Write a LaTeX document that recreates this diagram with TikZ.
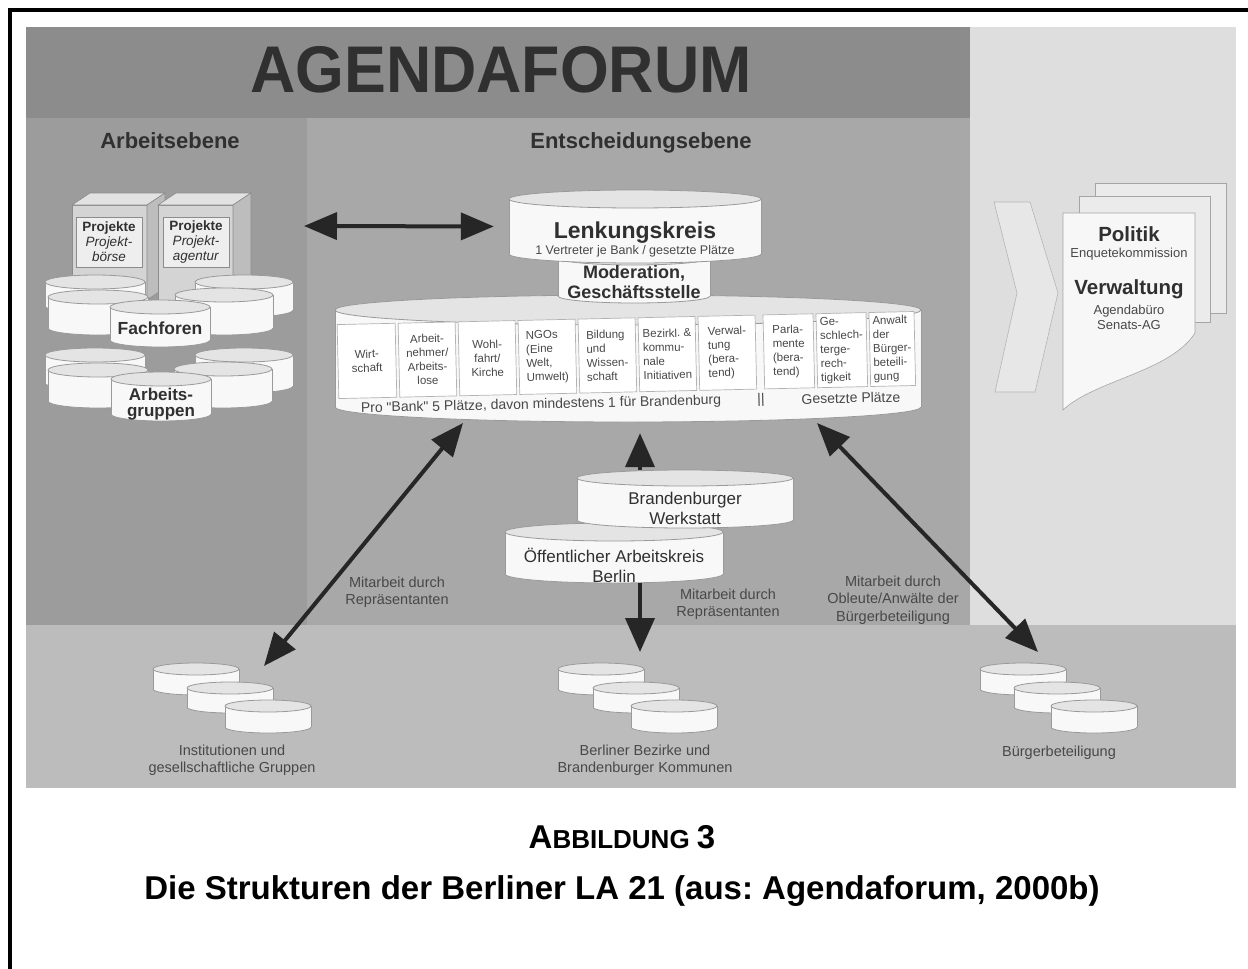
\documentclass[tikz,border=0pt]{standalone}
\usepackage{fontspec}
\setmainfont{Liberation Sans}
\newfontfamily\plainsans{Liberation Sans}
\usetikzlibrary{arrows.meta,calc}
\frenchspacing
\definecolor{bgtop}{HTML}{8C8C8C}
\definecolor{bgleft}{HTML}{9C9C9C}
\definecolor{bgmid}{HTML}{A8A8A8}
\definecolor{bgright}{HTML}{DEDEDE}
\definecolor{bgbot}{HTML}{BCBCBC}
\definecolor{cylw}{HTML}{F8F8F8}
\definecolor{cylt}{HTML}{E4E4E4}
\definecolor{cyll}{HTML}{9A9A9A}
\definecolor{txtd}{HTML}{303030}
\definecolor{txtm}{HTML}{484848}
\definecolor{arrc}{HTML}{262626}
\definecolor{boxf}{HTML}{D4D4D4}
\definecolor{boxt}{HTML}{E2E2E2}
\definecolor{boxs}{HTML}{BDBDBD}
\definecolor{boxl}{HTML}{8C8C8C}
\definecolor{panf}{HTML}{EEEEEE}
\definecolor{pagef}{HTML}{F7F7F7}
\definecolor{pageb}{HTML}{EBEBEB}
\definecolor{pagel}{HTML}{A5A5A5}
\definecolor{chevf}{HTML}{E7E7E7}
\definecolor{chevl}{HTML}{B5B5B5}
\definecolor{colb}{HTML}{B2B2B2}

\newcommand{\fsz}[2]{\fontsize{#1}{#2}\selectfont}
% name, cx, ytop, ybot, rx, ry
\newcommand{\cylshape}[6]{%
  \pgfmathsetmacro{\cylL}{#2-#5}%
  \pgfmathsetmacro{\cylR}{#2+#5}%
  \pgfmathsetmacro{\cylH}{#4-#3+2*#6}%
  \pgfmathsetmacro{\cylW}{2*#5}%
  \pgfmathsetmacro{\cylM}{(#3+#4)/2}%
  \filldraw[cylbody] (#2,#4) ellipse[x radius=#5, y radius=#6];
  \fill[cylw] (\cylL,#3) rectangle (\cylR,#4);
  \draw[cylline] (\cylL,#3) -- (\cylL,#4) (\cylR,#3) -- (\cylR,#4);
  \filldraw[cyltop] (#2,#3) ellipse[x radius=#5, y radius=#6];
  \node[cylnode, minimum width=\cylW pt, minimum height=\cylH pt] (#1) at (#2,\cylM) {};
}
% name, xl, xr, align, text
\newcommand{\colbox}[5]{%
  \node[colstyle, align=#4, minimum width={(#3-#2)*1pt}] (#1) at ({(#2+#3)/2},355) {#5};}

\begin{document}
\begin{tikzpicture}[x=1pt,y=-1pt,
  every node/.style={inner sep=0pt, text=txtd},
  cylbody/.style={fill=cylw, draw=cyll, line width=0.8pt},
  cylline/.style={draw=cyll, line width=0.8pt},
  cyltop/.style={fill=cylt, draw=cyll, line width=0.8pt},
  cylnode/.style={inner sep=0pt, draw=none},
  colstyle/.style={draw=colb, fill=white, line width=0.7pt, minimum height=74pt, text=txtm, font=\fsz{11.5}{14}},
  boxfront/.style={fill=boxf, draw=boxl, line width=0.6pt},
  boxtop/.style={fill=boxt, draw=boxl, line width=0.6pt},
  boxside/.style={fill=boxs, draw=boxl, line width=0.6pt},
  panel/.style={fill=panf, draw=boxl, line width=0.5pt, minimum width=66pt, minimum height=50pt, align=center, font=\fsz{13.5}{15}},
  pageback/.style={fill=pageb, draw=pagel, line width=0.6pt},
  pagefront/.style={fill=pagef, draw=pagel, line width=0.6pt},
  chev/.style={fill=chevf, draw=chevl, line width=0.6pt},
  arr/.style={line width=4pt, draw=arrc, -{Triangle[length=34pt,width=29pt]}},
  dblarr/.style={line width=4pt, draw=arrc, {Triangle[length=33pt,width=27pt]}-{Triangle[length=33pt,width=27pt]}},
  lbl/.style={text=txtm, align=center, font=\fsz{14.5}{17.5}},
  grp/.style={text=txtm, align=center, font=\fsz{14.5}{17}},
  cyltext/.style={align=center, font=\fsz{17}{20}},
  cylbold/.style={align=center, font=\fsz{18}{20}\bfseries}
]
\useasboundingbox (0,0) rectangle (1248,969);
\fill[white] (0,0) rectangle (1248,969);

% ---------- backgrounds ----------
\fill[bgtop] (26,27) rectangle (970,118);
\fill[bgleft] (26,118) rectangle (307,625);
\fill[bgmid] (307,118) rectangle (970,625);
\fill[bgright] (970,27) rectangle (1236,625);
\fill[bgbot] (26,625) rectangle (1236,788);

% frame
\draw[line width=4pt] (10,969) -- (10,10) -- (1248,10);

% ---------- headings ----------
\node[text=txtd] (title) at (501,70) {\scalebox{0.95}[1]{\fsz{66}{66}\bfseries AGENDAFORUM}};
\node (hArb) at (170,141) {\fsz{22}{22}\bfseries Arbeitsebene};
\node (hEnt) at (641,143) {\fsz{22}{22}\bfseries Entscheidungsebene};

% ---------- Arbeitsebene: project boxes ----------
\filldraw[boxfront] (72,205) rectangle (147,300);
\filldraw[boxtop] (72,205) -- (90,193) -- (165,193) -- (147,205) -- cycle;
\filldraw[boxside] (147,205) -- (165,193) -- (165,288) -- (147,300) -- cycle;
\filldraw[boxfront] (158,205) rectangle (233,300);
\filldraw[boxtop] (158,205) -- (176,193) -- (251,193) -- (233,205) -- cycle;
\filldraw[boxside] (233,205) -- (251,193) -- (251,288) -- (233,300) -- cycle;
\node[panel] (pboerse) at (109,242) {\textbf{Projekte}\\\textit{Projekt-}\\\textit{börse}};
\node[panel] (pagentur) at (196,242) {\textbf{Projekte}\\\textit{Projekt-}\\\textit{agentur}};

% Fachforen group
\cylshape{ffBL}{95}{282}{306}{50}{7}
\cylshape{ffBR}{244}{282}{310}{49}{7}
\cylshape{ffFL}{98}{297}{328}{50}{7}
\cylshape{ffFR}{224}{295}{328}{49}{7}
\cylshape{ffC}{160}{307}{340}{50}{7}
\node (ffT) at (160,328) {\fsz{17.5}{17.5}\bfseries Fachforen};

% Arbeitsgruppen group
\cylshape{agBL}{95}{355}{383}{50}{7}
\cylshape{agBR}{244}{355}{386}{49}{7}
\cylshape{agFL}{98}{370}{401}{50}{7}
\cylshape{agFR}{223}{369}{401}{49}{7}
\cylshape{agC}{161}{379}{414}{50}{7}
\node[align=center, font=\fsz{17}{15.5}\bfseries] (agT) at (161,404) {Arbeits-\\gruppen};

% ---------- Entscheidungsebene ----------
\cylshape{big}{628}{310}{407}{293}{15}
\begin{scope}[rotate around={1.3:(628,360)}, transform shape]
  \colbox{cWirt}{338}{396}{center}{Wirt-\\schaft}
  \colbox{cArb}{399}{456}{center}{Arbeit-\\nehmer/\\Arbeits-\\lose}
  \colbox{cWohl}{459}{516}{center}{Wohl-\\fahrt/\\Kirche}
  \colbox{cNGO}{519}{576}{left}{NGOs\\(Eine\\Welt,\\Umwelt)}
  \colbox{cBild}{579}{636}{left}{Bildung\\und\\Wissen-\\schaft}
  \colbox{cBez}{639}{696}{left}{Bezirkl. \&\\kommu-\\nale\\Initiativen}
  \colbox{cVerw}{699}{756}{left}{Verwal-\\tung\\(bera-\\tend)}
  \colbox{cParl}{764}{814}{left}{Parla-\\mente\\(bera-\\tend)}
  \colbox{cGesch}{817}{867}{left}{Ge-\\schlech-\\terge-\\rech-\\tigkeit}
  \colbox{cAnw}{870}{915}{left}{Anwalt\\der\\Bürger-\\beteili-\\gung}
  \node[text=txtm] (proBank) at (540,403) {\fsz{14}{14}\plainsans Pro "Bank" 5 Plätze, davon mindestens 1 für Brandenburg};
  \node[text=txtm] (sepBar) at (760,403) {\fsz{14}{14}||};
  \node[text=txtm] (gesetzt) at (850,403) {\fsz{14}{14}Gesetzte Plätze};
\end{scope}

\cylshape{mod}{634}{258}{296}{76}{7}
\node[cylbold] (modT) at (634,282) {Moderation,\\Geschäftsstelle};

\cylshape{lenk}{635}{199}{254}{126}{9}
\node (lenkT) at (635,233) {\fsz{23}{23}\bfseries Lenkungskreis};
\node[text=txtm] (lenkS) at (635,251) {\fsz{12.5}{12.5}1 Vertreter je Bank / gesetzte Plätze};

\cylshape{oeff}{614}{532}{574}{109}{9}
\cylshape{brand}{685}{478}{520}{108}{8}
\node[cyltext] (brandT) at (685,508) {Brandenburger\\Werkstatt};
\node[cyltext] (oeffT) at (614,565) {Öffentlicher Arbeitskreis\\Berlin};

% ---------- right panel ----------
\filldraw[chev] (994,202) -- (1030,202) -- (1058,293) -- (1035,392) -- (995,392) -- (1017,293) -- cycle;
\filldraw[pageback] (1095,183) rectangle (1226,313);
\filldraw[pageback] (1079,196) rectangle (1210,322);
\filldraw[pagefront] (1063,213) -- (1195,213) -- (1195,333) .. controls (1170,372) and (1095,380) .. (1063,410) -- cycle;
\node (polT) at (1129,234) {\fsz{20.5}{20.5}\bfseries Politik};
\node[text=txtm] (enqT) at (1129,254) {\fsz{13}{13}Enquetekommission};
\node (verT) at (1129,289) {\fsz{20.5}{20.5}\bfseries Verwaltung};
\node[text=txtm, align=center, font=\fsz{13}{15}] (agbT) at (1129,317) {Agendabüro\\Senats-AG};

% ---------- bottom groups ----------
\cylshape{i1}{196}{669}{689}{43}{6}
\cylshape{i2}{230}{688}{707}{43}{6}
\cylshape{i3}{268}{706}{727}{43}{6}
\node[grp] (instT) at (232,760) {Institutionen und\\gesellschaftliche Gruppen};

\cylshape{b1}{601}{669}{689}{43}{6}
\cylshape{b2}{636}{688}{707}{43}{6}
\cylshape{b3}{674}{706}{727}{43}{6}
\node[grp] (bezT) at (645,760) {Berliner Bezirke und\\Brandenburger Kommunen};

\cylshape{u1}{1023}{669}{689}{43}{6}
\cylshape{u2}{1057}{688}{707}{43}{6}
\cylshape{u3}{1094}{706}{727}{43}{6}
\node[grp] (buergT) at (1059,753) {Bürgerbeteiligung};

% ---------- labels ----------
\node[lbl] (lblL) at (397,592) {Mitarbeit durch\\Repräsentanten};
\node[lbl] (lblM) at (728,604) {Mitarbeit durch\\Repräsentanten};
\node[lbl] (lblR) at (893,600) {Mitarbeit durch\\Obleute/Anwälte der\\Bürgerbeteiligung};

% ---------- connectors ----------
\coordinate (hL) at (304,226);
\draw[dblarr, shorten >=15pt] (hL) -- (lenk.west);
\coordinate (upB) at (640,470);
\draw[arr, shorten >=11pt] (upB) -- (upB |- big.south);
\coordinate (dnT) at (640,652);
\draw[arr] (oeff.south -| upB) -- (dnT);
\coordinate (lU) at (463,423);
\coordinate (lD) at (264,666);
\draw[dblarr] (lU) -- (lD);
\coordinate (rU) at (817,423);
\coordinate (rD) at (1038,652);
\draw[dblarr] (rU) -- (rD);

% ---------- caption ----------
\node[text=black] (capA) at (622,837) {\bfseries\fsz{33}{33}A\fsz{26}{26}BBILDUNG \fsz{33}{33}3};
\node[text=black] (capB) at (622,891) {\bfseries\fsz{33}{33}Die Strukturen der Berliner LA 21 (aus: Agendaforum, 2000b)};
\end{tikzpicture}
\end{document}
